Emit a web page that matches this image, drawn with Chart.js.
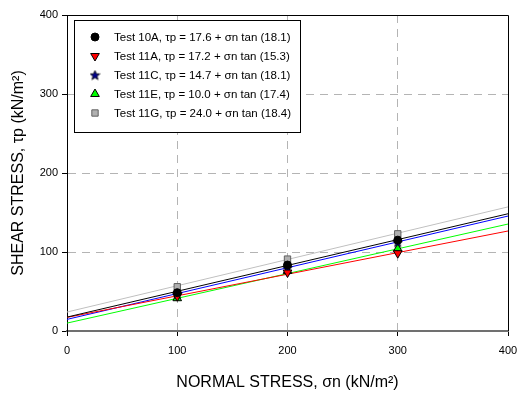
<!DOCTYPE html>
<html>
<head>
<meta charset="utf-8">
<script src="https://cdn.jsdelivr.net/npm/chart.js@4.4.0/dist/chart.umd.min.js"></script>
<style>
  html, body { margin: 0; padding: 0; background: #fff; }
  #wrap { width: 517px; height: 396px; }
</style>
</head>
<body>
<div id="wrap"><canvas id="shear-chart"></canvas></div>
<script>
// measured points (normal stress vs shear stress)
var normalStress = [100, 200, 300];
var test10A = [48.5, 83.5, 115];
var test11A = [44, 74, 98.5];
var test11C = [47, 80, 112.5];
var test11E = [41.5, 76, 104];
var test11G = [56, 91, 123];

// fitted lines, read at both ends of the axis
var fitX = [0, 400];
var fitAt0 = [17.6, 17.2, 14.7, 10.0, 24.0];
var fitAt400 = [148.4, 126.6, 145.5, 135.4, 157.1];

var legendLabels = [
    'Test 10A, \u03C4p = 17.6 + \u03C3n tan (18.1)',
    'Test 11A, \u03C4p = 17.2 + \u03C3n tan (15.3)',
    'Test 11C, \u03C4p = 14.7 + \u03C3n tan (18.1)',
    'Test 11E, \u03C4p = 10.0 + \u03C3n tan (17.4)',
    'Test 11G, \u03C4p = 24.0 + \u03C3n tan (18.4)'
];
var axisTicks = [0, 100, 200, 300, 400];

var FONT = "Arial, 'Liberation Sans', sans-serif";

// filled star marker
function makeStar() {
    var c = document.createElement('canvas');
    c.width = 11; c.height = 11;
    var g = c.getContext('2d');
    g.beginPath();
    for (var i = 0; i < 10; i++) {
        var r = i % 2 === 0 ? 5 : 2.2;
        var a = -Math.PI / 2 + i * Math.PI / 5;
        g.lineTo(5.5 + r * Math.cos(a), 6 + r * Math.sin(a));
    }
    g.closePath();
    g.fillStyle = '#00008b';
    g.fill();
    g.strokeStyle = '#000';
    g.lineWidth = 0.8;
    g.stroke();
    return c;
}
var starImg = makeStar();

var series = [test10A, test11A, test11C, test11E, test11G];
var lineColors = ['#000000', '#ff0000', '#0000ff', '#00ff00', '#c0c0c0'];
var markers = [
    { pointStyle: 'circle', radius: 4, rotation: 0, bg: '#000', border: '#000' },
    { pointStyle: 'triangle', radius: 5, rotation: 180, bg: '#ff0000', border: '#000' },
    { pointStyle: starImg, radius: 5, rotation: 0, bg: '#00008b', border: '#000' },
    { pointStyle: 'triangle', radius: 5, rotation: 0, bg: '#00ff00', border: '#000' },
    { pointStyle: 'rect', radius: 4.5, rotation: 0, bg: '#b0b0b0', border: '#606060' }
];

var datasets = [];
for (var i = 0; i < series.length; i++) {
    datasets.push({
        label: 'fit' + i,
        data: fitX.map(function(x, k) { return { x: x, y: k === 0 ? fitAt0[i] : fitAt400[i] }; }),
        showLine: true,
        borderColor: lineColors[i],
        borderWidth: 1,
        pointRadius: 0,
        order: 10 + i
    });
}
for (var j = series.length - 1; j >= 0; j--) {
    datasets.push({
        label: legendLabels[j],
        data: normalStress.map(function(x, k) { return { x: x, y: series[j][k] }; }),
        showLine: false,
        pointStyle: markers[j].pointStyle,
        pointRadius: markers[j].radius,
        pointRotation: markers[j].rotation,
        backgroundColor: markers[j].bg,
        borderColor: markers[j].border,
        borderWidth: 1,
        order: j
    });
}

// frame on top/right and the boxed legend
var framePlugin = {
    id: 'frame',
    afterDraw: function(chart) {
        var ctx = chart.ctx, a = chart.chartArea;
        ctx.save();
        ctx.strokeStyle = '#000';
        ctx.lineWidth = 1;
        ctx.beginPath();
        ctx.moveTo(a.left, a.top + 0.5);
        ctx.lineTo(a.right + 0.5, a.top + 0.5);
        ctx.lineTo(a.right + 0.5, a.bottom);
        ctx.stroke();

        var bx = 74.5, by = 20.5, bw = 226, bh = 112;
        ctx.fillStyle = '#fff';
        ctx.fillRect(bx, by, bw, bh);
        ctx.strokeRect(bx, by, bw, bh);
        ctx.font = '11.5px ' + FONT;
        ctx.textBaseline = 'middle';
        for (var i = 0; i < legendLabels.length; i++) {
            var y = 37 + i * 19;
            var m = markers[i];
            ctx.fillStyle = m.bg;
            ctx.strokeStyle = m.border;
            ctx.lineWidth = 1;
            Chart.helpers.drawPoint(ctx, { pointStyle: m.pointStyle, radius: m.radius, rotation: m.rotation, borderWidth: 1 }, 95, y);
            ctx.fillStyle = '#000';
            ctx.fillText(legendLabels[i], 114, y + 1);
        }
        ctx.restore();
    }
};

function gridColor(c) {
    var v = c.tick ? c.tick.value : null;
    return (v === 0 || v === 400) ? 'rgba(0,0,0,0)' : '#b4b4b4';
}

var ctx = document.getElementById('shear-chart').getContext('2d');
var shearChart = new Chart(ctx, {
    type: 'scatter',
    data: { datasets: datasets },
    options: {
        responsive: true,
        maintainAspectRatio: false,
        animation: false,
        layout: { padding: { left: 0, top: 15, right: 0, bottom: 0 } },
        plugins: { legend: { display: false }, tooltip: { enabled: false } },
        scales: {
            x: {
                type: 'linear',
                min: 0, max: 400,
                afterBuildTicks: function(s) { s.ticks = axisTicks.map(function(v) { return { value: v }; }); },
                afterFit: function(s) { s.height = 65; s.paddingRight = 9; s.paddingLeft = 0; },
                grid: { color: gridColor, tickColor: '#000', tickLength: 5, lineWidth: 1 },
                border: { color: '#707070', width: 2, dash: [8, 6] },
                ticks: { color: '#000', font: { family: FONT, size: 11 }, padding: 8, maxRotation: 0 },
                title: {
                    display: true,
                    text: 'NORMAL STRESS, \u03C3n (kN/m\u00B2)',
                    color: '#000',
                    font: { family: FONT, size: 16 },
                    padding: { top: 0, bottom: 4 }
                }
            },
            y: {
                type: 'linear',
                min: 0, max: 400,
                afterBuildTicks: function(s) { s.ticks = axisTicks.map(function(v) { return { value: v }; }); },
                afterFit: function(s) { s.width = 67; },
                grid: { color: gridColor, tickColor: '#000', tickLength: 5, lineWidth: 1 },
                border: { color: '#000', width: 1, dash: [8, 6] },
                ticks: { color: '#000', font: { family: FONT, size: 11 }, padding: 4 },
                title: {
                    display: true,
                    text: 'SHEAR STRESS, \u03C4p (kN/m\u00B2)',
                    color: '#000',
                    font: { family: FONT, size: 16 },
                    padding: { top: 9, bottom: 0 }
                }
            }
        }
    },
    plugins: [framePlugin]
});
</script>
</body>
</html>
